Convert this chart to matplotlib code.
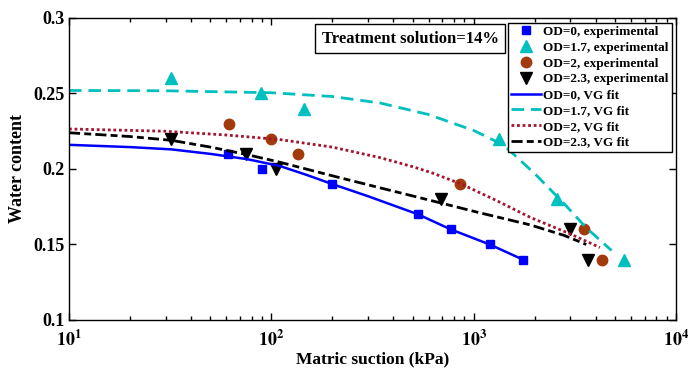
import math
import matplotlib.pyplot as plt
from matplotlib.ticker import FixedLocator, FuncFormatter, LogLocator, NullFormatter

plt.rcParams['font.family'] = 'Liberation Serif'
plt.rcParams['font.weight'] = 'bold'
plt.rcParams['mathtext.fontset'] = 'stix'

# experimental points
s0 = [61, 90, 200, 530, 770, 1200, 1750]
w0 = [0.21, 0.20, 0.19, 0.17, 0.16, 0.15, 0.14]
s17 = [32, 89, 145, 1340, 2570, 5500]
w17 = [0.26, 0.25, 0.24, 0.22, 0.18, 0.14]
s2 = [62, 100, 135, 860, 3500, 4300]
w2 = [0.23, 0.22, 0.21, 0.19, 0.16, 0.14]
s23 = [32, 75, 105, 690, 3000, 3650]
w23 = [0.22, 0.21, 0.20, 0.18, 0.16, 0.14]

# VG fit curves
f0_x = [10, 20, 32, 50, 76, 110, 150, 200, 300, 530, 770, 1200, 1750]
f0_y = [0.216, 0.2145, 0.213, 0.210, 0.2065, 0.202, 0.196, 0.190, 0.182, 0.170, 0.160, 0.150, 0.140]
f17_x = [10, 30, 100, 200, 345, 600, 1000, 1400, 2000, 2800, 3600, 4800]
f17_y = [0.252, 0.2518, 0.2505, 0.248, 0.2437, 0.236, 0.2255, 0.216, 0.197, 0.177, 0.161, 0.146]
f2_x = [10, 30, 60, 110, 200, 345, 500, 620, 870, 1300, 1900, 3000, 4200]
f2_y = [0.2265, 0.225, 0.2225, 0.2195, 0.2145, 0.2075, 0.2015, 0.1975, 0.190, 0.179, 0.168, 0.157, 0.148]
f23_x = [10, 20, 32, 50, 76, 110, 200, 345, 620, 1070, 1900, 2800, 3600]
f23_y = [0.224, 0.2215, 0.219, 0.2145, 0.2095, 0.2045, 0.1955, 0.1875, 0.179, 0.171, 0.163, 0.156, 0.150]

fig = plt.figure(figsize=(6.92, 3.71), dpi=100)
ax = fig.add_axes([0.0997, 0.1375, 0.8773, 0.814])

ax.plot(s0, w0, 's', color='#0000ff', ms=6, label='OD=0, experimental')
ax.plot(s17, w17, '^', color='#00bfbf', ms=8, label='OD=1.7, experimental')
ax.plot(s2, w2, 'o', color='#a33a0c', ms=7.5, label='OD=2, experimental')
ax.plot(s23, w23, 'v', color='black', ms=8, label='OD=2.3, experimental')
ax.plot(f0_x, f0_y, '-', color='#0000ff', lw=1.8, label='OD=0, VG fit')
ax.plot(f17_x, f17_y, color='#00bfbf', lw=2, ls=(0, (4.5, 2.5)), label='OD=1.7, VG fit')
ax.plot(f2_x, f2_y, color='#a2142f', lw=2, ls=(0, (1, 1)), label='OD=2, VG fit')
ax.plot(f23_x, f23_y, color='black', lw=2, ls=(0, (4, 1.5, 2.5, 1.5)), label='OD=2.3, VG fit')

ax.set_xscale('log')
ax.set_xlim(10, 1e4)
ax.set_ylim(0.1, 0.3)
ax.xaxis.set_major_locator(FixedLocator([10, 100, 1000, 10000]))
ax.xaxis.set_major_formatter(FuncFormatter(lambda v, p: r'$\mathbf{10^{%d}}$' % round(math.log10(v))))
ax.xaxis.set_minor_locator(LogLocator(base=10, subs=range(2, 10)))
ax.xaxis.set_minor_formatter(NullFormatter())
ax.set_yticks([0.1, 0.15, 0.2, 0.25, 0.3])
ax.set_yticklabels(['0.1', '0.15', '0.2', '0.25', '0.3'])
ax.tick_params(which='both', direction='in', top=True, right=True, labelsize=13, width=1)
ax.tick_params(which='major', length=5)
ax.tick_params(which='minor', length=3)
ax.tick_params(axis='x', pad=7)
for sp in ax.spines.values():
    sp.set_linewidth(1)

ax.set_xlabel('Matric suction (kPa)', fontsize=12.5, fontweight='bold', labelpad=1)
ax.set_ylabel('Water content', fontsize=13, fontweight='bold', labelpad=5)

ax.text(0.416, 0.932, 'Treatment solution=14%', transform=ax.transAxes, fontsize=12,
        fontweight='bold', va='center', ha='left',
        bbox=dict(boxstyle='square,pad=0.4', fc='white', ec='black', lw=1))

leg = ax.legend(loc='upper right', bbox_to_anchor=(0.993, 0.985), fontsize=9.5,
                frameon=True, fancybox=False, edgecolor='black', framealpha=1,
                handlelength=2.2, handletextpad=0.2, labelspacing=0.27,
                borderpad=0.25, borderaxespad=0)
leg.get_frame().set_linewidth(1)

fig.savefig('out.png', dpi=100)
